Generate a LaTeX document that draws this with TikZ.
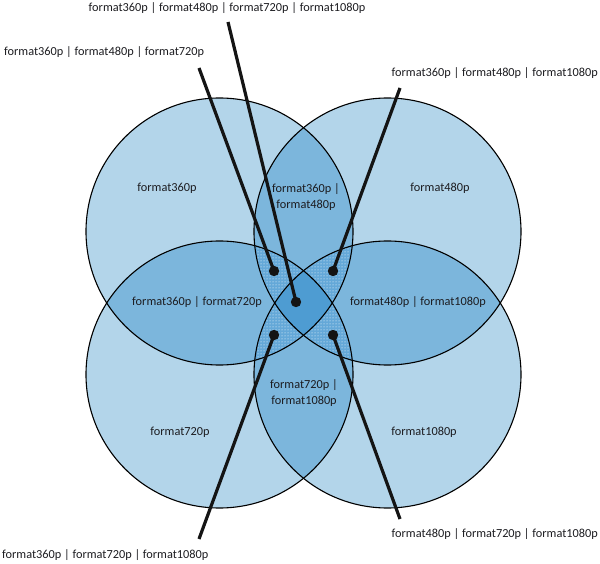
\documentclass[tikz,border=0pt]{standalone}
\usepackage{fontspec}
\setmainfont{Carlito}
\usetikzlibrary{patterns}
\definecolor{setone}{RGB}{179,213,234}
\definecolor{settwo}{RGB}{124,182,220}
\definecolor{setthree}{RGB}{100,168,216}
\definecolor{setfour}{RGB}{78,156,210}
\definecolor{lbltext}{RGB}{28,28,32}
\newcommand{\setrad}{133.5}
\begin{document}
\begin{tikzpicture}[
  x=1pt, y=-1pt, line join=round,
  ring/.style={draw=black, line width=1.1pt},
  lbl/.style={font=\fontsize{12.3}{15.5}\selectfont, text=lbltext, align=center, inner sep=0pt},
  pointer/.style={line width=3.2pt, black!92},
  pin/.style={fill=black!92},
]
\useasboundingbox (0,0) rectangle (600,564);

\coordinate (tl) at (219.5,231.5);
\coordinate (tr) at (387.5,231.5);
\coordinate (bl) at (219.5,374.5);
\coordinate (br) at (387.5,374.5);

% One set
\foreach \c in {tl,tr,bl,br} {
  \fill[setone] (\c) circle (\setrad);
}
% Two sets
\foreach \a/\b in {tl/tr, tl/bl, tr/br, bl/br, tl/br, tr/bl} {
  \begin{scope}
    \clip (\a) circle (\setrad);
    \fill[settwo] (\b) circle (\setrad);
  \end{scope}
}
% Three sets
\foreach \a/\b/\c in {tl/tr/bl, tl/tr/br, tl/bl/br, tr/bl/br} {
  \begin{scope}
    \clip (\a) circle (\setrad);
    \clip (\b) circle (\setrad);
    \fill[setthree] (\c) circle (\setrad);
    \fill[pattern=dots, pattern color=white!70] (\c) circle (\setrad);
  \end{scope}
}
% Four sets
\begin{scope}
  \clip (tl) circle (\setrad);
  \clip (tr) circle (\setrad);
  \clip (bl) circle (\setrad);
  \fill[setfour] (br) circle (\setrad);
\end{scope}
\foreach \c in {tl,tr,bl,br} {
  \draw[ring] (\c) circle (\setrad);
}

% Labels inside
\node[lbl] (f360) at (167,188) {format360p};
\node[lbl] (f480) at (440,188) {format480p};
\node[lbl] (f720) at (180,432) {format720p};
\node[lbl] (f1080) at (424,432) {format1080p};
\node[lbl] (f360x480) at (306,197) {format360p |\\format480p};
\node[lbl] (f360x720) at (197,302) {format360p | format720p};
\node[lbl] (f480x1080) at (418,302) {format480p | format1080p};
\node[lbl] (f720x1080) at (304,393) {format720p |\\format1080p};

% Labels outside
\node[lbl] (fall) at (227,8) {format360p | format480p | format720p | format1080p};
\node[lbl, anchor=west] (f360x480x720) at (4,52) {format360p | format480p | format720p};
\node[lbl, anchor=east] (f360x480x1080) at (598,73) {format360p | format480p | format1080p};
\node[lbl, anchor=west] (f360x720x1080) at (2,555) {format360p | format720p | format1080p};
\node[lbl, anchor=east] (f480x720x1080) at (598,534) {format480p | format720p | format1080p};

% Pointers
\coordinate (pall) at (296,302);
\coordinate (p360x480x720) at (274,271);
\coordinate (p360x480x1080) at (333,271);
\coordinate (p360x720x1080) at (274,335);
\coordinate (p480x720x1080) at (333,335);
\coordinate (tall) at (228,22);
\coordinate (t360x480x720) at (199,68);
\coordinate (t360x480x1080) at (400,88);
\coordinate (t360x720x1080) at (199,539);
\coordinate (t480x720x1080) at (400,519);
\foreach \k in {all, 360x480x720, 360x480x1080, 360x720x1080, 480x720x1080} {
  \draw[pointer] (t\k) -- (p\k);
  \fill[pin] (p\k) circle (5.2);
}
\end{tikzpicture}
\end{document}
